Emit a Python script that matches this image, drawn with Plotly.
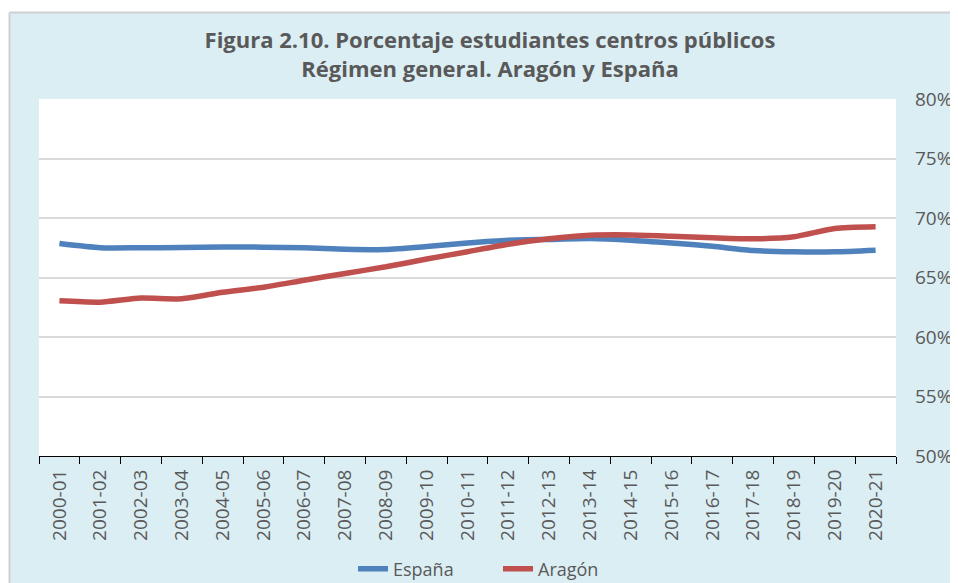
import plotly.graph_objects as go

# ── Data ─────────────────────────────────────────────────────────────────────
cursos = [
    "2000-01", "2001-02", "2002-03", "2003-04", "2004-05", "2005-06", "2006-07",
    "2007-08", "2008-09", "2009-10", "2010-11", "2011-12", "2012-13", "2013-14",
    "2014-15", "2015-16", "2016-17", "2017-18", "2018-19", "2019-20", "2020-21",
]
espana = [67.85, 67.5, 67.5, 67.52, 67.57, 67.55, 67.5, 67.38, 67.35, 67.6,
          67.9, 68.13, 68.2, 68.27, 68.14, 67.9, 67.62, 67.27, 67.16, 67.16, 67.3]
aragon = [63.04, 62.93, 63.28, 63.21, 63.76, 64.18, 64.77, 65.34, 65.9, 66.55,
          67.17, 67.8, 68.25, 68.55, 68.58, 68.47, 68.34, 68.25, 68.42, 69.12, 69.26]
y_ticks = [50, 55, 60, 65, 70, 75, 80]

# ── Theme ────────────────────────────────────────────────────────────────────
BG = "#DBEEF4"
TEXT = "#595959"
GRID = "#D9D9D9"
BLUE = "#4F81BD"
RED = "#C0504D"
FONT = "'Open Sans', sans-serif"

fig = go.Figure()
fig.add_trace(go.Scatter(
    x=cursos, y=espana, name="España", mode="lines",
    line=dict(color=BLUE, width=5.5, shape="spline", smoothing=0.6),
))
fig.add_trace(go.Scatter(
    x=cursos, y=aragon, name="Aragón", mode="lines",
    line=dict(color=RED, width=5.5, shape="spline", smoothing=0.6),
))

# thin white page edge + grey frame around the blue chart box
fig.add_shape(type="rect", xref="paper", yref="paper", x0=-0.06, x1=1.1,
              y0=1.2409, y1=1.3, fillcolor="white", line_width=0, layer="below")
fig.add_shape(type="rect", xref="paper", yref="paper", x0=-0.06, x1=-0.0338,
              y0=-0.4, y1=1.3, fillcolor="white", line_width=0, layer="below")
fig.add_shape(type="line", xref="paper", yref="paper", x0=-0.0344, x1=-0.0344,
              y0=-0.4, y1=1.2423, line=dict(color="#D0D0D0", width=2))
fig.add_shape(type="line", xref="paper", yref="paper", x0=-0.0344, x1=1.1,
              y0=1.2423, y1=1.2423, line=dict(color="#D0D0D0", width=2))

fig.update_layout(
    width=958, height=583,
    paper_bgcolor=BG, plot_bgcolor="white",
    font=dict(family=FONT, color=TEXT, size=18),
    margin=dict(l=31, r=70, t=91, b=135),
    title=dict(
        text="<b>Figura 2.10. Porcentaje estudiantes centros públicos<br>Régimen general. Aragón y España</b>",
        font=dict(size=22, color=TEXT, family=FONT),
        xref="container", yref="container", x=482 / 958, y=1 - 40 / 583,
        xanchor="center", yanchor="middle",
    ),
    legend=dict(
        orientation="h", xref="container", yref="container",
        x=490 / 958, y=1 - 561 / 583, xanchor="center", yanchor="middle",
        bgcolor="rgba(0,0,0,0)", font=dict(size=18, color=TEXT),
        entrywidth=100,
    ),
    showlegend=True,
)
fig.update_xaxes(
    type="category", range=[-0.5, 20.5], tickangle=-90,
    showline=True, linecolor="black", linewidth=1,
    ticks="outside", ticklen=7, tickcolor="black", tickson="boundaries",
    showgrid=False, tickfont=dict(size=19, color=TEXT), automargin=False,
    ticklabelstandoff=5,
)
fig.update_yaxes(
    side="right", range=[50, 80], tickvals=y_ticks,
    ticktext=[f"{v}%" for v in y_ticks],
    showgrid=True, gridcolor=GRID, gridwidth=2, zeroline=False,
    showline=False, ticks="", ticklabelstandoff=18,
    tickfont=dict(size=19, color=TEXT), automargin=False,
)

fig.write_html("out.html")
